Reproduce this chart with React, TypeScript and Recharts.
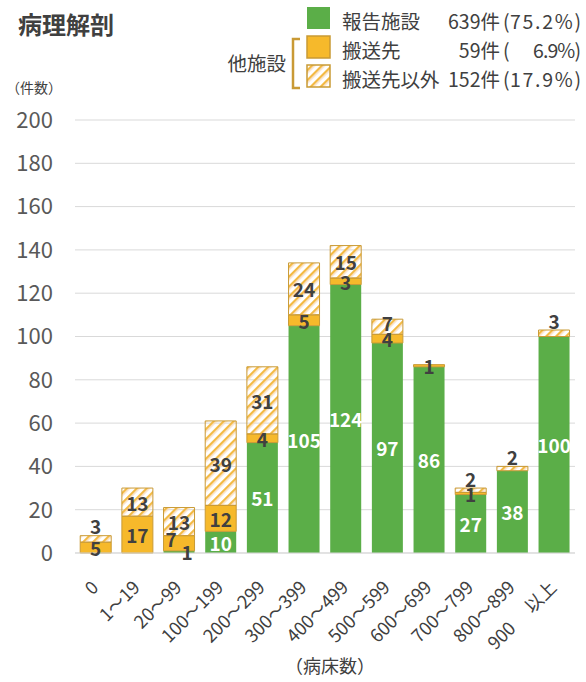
import { BarChart, Bar, XAxis, YAxis, CartesianGrid, LabelList } from 'recharts';

const categories = ['0', '1～19', '20～99', '100～199', '200～299', '300～399', '400～499', '500～599', '600～699', '700～799', '800～899', '900以上'];
const reportCounts = [0, 0, 1, 10, 51, 105, 124, 97, 86, 27, 38, 100];
const transferCounts = [5, 17, 7, 12, 4, 5, 3, 4, 1, 1, 0, 0];
const otherCounts = [3, 13, 13, 39, 31, 24, 15, 7, 0, 2, 2, 3];
const yTicks = [0, 20, 40, 60, 80, 100, 120, 140, 160, 180, 200];

const seriesNames = ['報告施設', '搬送先', '搬送先以外'];

const GREEN = '#5BAE48';
const ORANGE = '#F6B92B';
const EDGE = '#C99A35';
const DARK = '#404040';
const FONT = "'Noto Sans CJK JP', 'Noto Sans', sans-serif";

const chartData = categories.map((name, i) => ({
  name,
  report: reportCounts[i],
  transfer: transferCounts[i],
  other: otherCounts[i],
}));

const sum = (arr: number[]) => arr.reduce((a, b) => a + b, 0);
const totals = [sum(reportCounts), sum(transferCounts), sum(otherCounts)];
const grandTotal = sum(totals);

const makeLabel = (kind: 'report' | 'transfer' | 'other') => (props: any) => {
  const { x, y, width, height, value, index } = props;
  if (!value) return null;
  let cx = Number(x) + Number(width) / 2;
  let cy = Number(y) + Number(height) / 2;
  let fill = kind === 'report' ? '#fff' : DARK;
  if (kind === 'report' && value < 3) {
    fill = DARK;
    cx += 8;
  }
  if (kind === 'transfer' && reportCounts[index] > 0 && reportCounts[index] < 3) {
    cx -= 8;
    cy -= 5;
  }
  if (kind === 'other' && value <= 3) cy = Number(y) - 10;
  else if (kind === 'other' && value < 10 && transferCounts[index] > 0) cy -= 4;
  return (
    <text x={cx} y={cy} textAnchor="middle" dominantBaseline="central" fill={fill}
      fontSize={19} fontWeight="bold" fontFamily={FONT}>
      {value}
    </text>
  );
};

const XTick = (props: any) => {
  const { x, payload } = props;
  const label: string = payload.value;
  const m = label.match(/^(\d+)(以上)$/);
  return (
    <g transform={`translate(${x - 2},583) rotate(-45)`}>
      <text textAnchor="end" dominantBaseline="central" fill={DARK} fontSize={18} fontFamily={FONT}>
        {m ? (
          <>
            <tspan>{m[1]}</tspan>
            <tspan dx={22}>{m[2]}</tspan>
          </>
        ) : label}
      </text>
    </g>
  );
};

const legendRows = [
  { fill: GREEN, stroke: 'none', name: seriesNames[0], total: totals[0], y: 7 },
  { fill: ORANGE, stroke: EDGE, name: seriesNames[1], total: totals[1], y: 36 },
  { fill: 'url(#hatch)', stroke: EDGE, name: seriesNames[2], total: totals[2], y: 65 },
];

export default function App() {
  return (
    <div style={{ position: 'absolute', left: 0, top: 0, width: 586, height: 682, fontFamily: FONT, background: '#fff' }}>
      <BarChart width={586} height={682} data={chartData}
        margin={{ top: 120, right: 11, left: 0, bottom: 0 }} barCategoryGap="12.5%">
        <CartesianGrid vertical={false} stroke="#D9D9D9" />
        <XAxis dataKey="name" interval={0} tickLine={false} tickSize={0} axisLine={{ stroke: '#D9D9D9' }}
          height={129} tick={<XTick />} />
        <YAxis domain={[0, 200]} ticks={yTicks} axisLine={false} tickLine={false} tickSize={0}
          tickMargin={22} width={75} tick={{ fontSize: 22, fill: '#595959', fontFamily: FONT }} />
        <Bar dataKey="report" stackId="a" fill={GREEN} isAnimationActive={false}>
          <LabelList dataKey="report" content={makeLabel('report')} />
        </Bar>
        <Bar dataKey="transfer" stackId="a" fill={ORANGE} stroke={EDGE} strokeWidth={1} isAnimationActive={false}>
          <LabelList dataKey="transfer" content={makeLabel('transfer')} />
        </Bar>
        <Bar dataKey="other" stackId="a" fill="url(#hatch)" stroke={EDGE} strokeWidth={1} isAnimationActive={false}>
          <LabelList dataKey="other" content={makeLabel('other')} />
        </Bar>
      </BarChart>

      <svg width={586} height={682} style={{ position: 'absolute', left: 0, top: 0, pointerEvents: 'none' }}>
        <defs>
          <pattern id="hatch" patternUnits="userSpaceOnUse" width={7} height={7} patternTransform="rotate(45)">
            <rect x={0} y={0} width={2.4} height={7} fill="#F3BA44" />
            <rect x={2.4} y={0} width={1.2} height={7} fill="#F9DCC0" />
          </pattern>
        </defs>
        <text x={18} y={23} dominantBaseline="central" fontSize={24} fontWeight="bold" fill={DARK}>病理解剖</text>
        <text x={6} y={87} dominantBaseline="central" fontSize={14} fill={DARK}>（件数）</text>
        <text x={330} y={665} textAnchor="middle" dominantBaseline="central" fontSize={18} fill={DARK}>（病床数）</text>

        {legendRows.map((r) => {
          const pct = (r.total / grandTotal) * 100;
          const pctText = `${pct.toFixed(1)}%)`;
          return (
            <g key={r.name}>
              <rect x={307} y={r.y} width={23} height={22} fill={r.fill} stroke={r.stroke} strokeWidth={1.5} />
              <text x={342} y={r.y + 13} dominantBaseline="central" fontSize={19.5} fill={DARK}>{r.name}</text>
              <text x={500} y={r.y + 13} textAnchor="end" dominantBaseline="central" fontSize={19.5} fill={DARK}>{r.total}件</text>
              <text x={503} y={r.y + 13} dominantBaseline="central" fontSize={19.5} fill={DARK}>(</text>
              <text x={pct < 10 ? 533 : 510} y={r.y + 13} dominantBaseline="central" fontSize={19.5} fill={DARK}
                textLength={pct < 10 ? 48 : 71} lengthAdjust="spacing">
                {pctText}
              </text>
            </g>
          );
        })}
        <text x={286} y={62} textAnchor="end" dominantBaseline="central" fontSize={19.5} fill={DARK}>他施設</text>
        <path d="M300,39 L293,39 L293,88 L300,88" fill="none" stroke={EDGE} strokeWidth={2.5} />
      </svg>
    </div>
  );
}
